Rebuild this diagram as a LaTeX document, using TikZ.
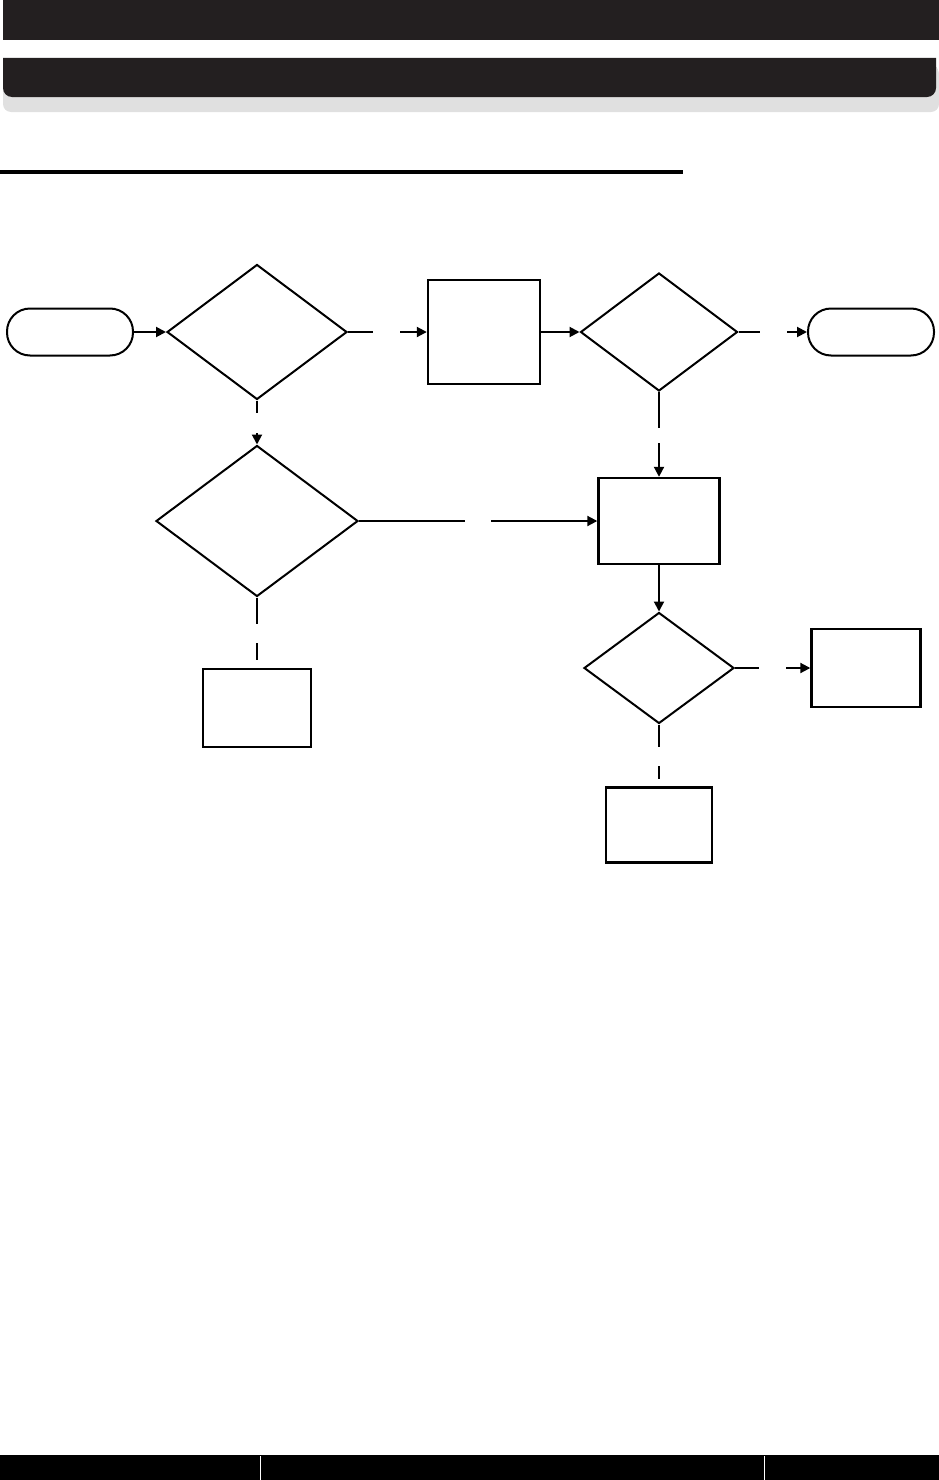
\documentclass[tikz,border=0pt]{standalone}
\usetikzlibrary{shapes.geometric,arrows.meta}
\definecolor{hdrdark}{RGB}{35,31,32}
\tikzset{
  term/.style={draw, line width=2pt, rectangle, rounded corners=23pt,
    minimum width=126pt, minimum height=47pt, inner sep=0pt},
  decis/.style={draw, line width=2pt, diamond, inner sep=0pt},
  procbox/.style={draw, line width=2.4pt, rectangle, inner sep=0pt},
  arr/.style={line width=2pt, -{Triangle[length=10pt,width=10pt]}},
  lnk/.style={line width=2pt}
}
\begin{document}
\begin{tikzpicture}[x=1pt,y=-1pt]
        \useasboundingbox (0,0) rectangle (939,1480);
        % Nagłówek
        \fill[hdrdark] (3,0) rectangle (939,40);
        \fill[black!25, rounded corners=8pt] (5,64) rectangle (938,108);
        \fill[black!12, rounded corners=8pt] (3,66) rectangle (939,112);
        \fill[hdrdark] (3,58) -- (936,58) [rounded corners=9pt] -- (936,97) -- (3,97) [sharp corners] -- cycle;
        \draw[line width=4pt] (0,172) -- (683,172);

        % Pierwszy rząd
        \node[term] (start) at (70,332) {};
        \node[decis, minimum width=180pt, minimum height=135pt] (dA) at (257,332) {};
        \node[procbox, minimum width=112pt, minimum height=104pt] (boxA) at (484,332) {};
        \node[decis, minimum width=157pt, minimum height=118pt] (dB) at (659,332) {};
        \node[term] (stop) at (871,332) {};

        % Drugi rząd
        \node[decis, minimum width=202pt, minimum height=151pt] (dC) at (257,521) {};
        \node[procbox, minimum width=121pt, minimum height=86pt] (boxB) at (659,521) {};

        % Dolna część
        \node[decis, minimum width=150pt, minimum height=111pt] (dD) at (659,668) {};
        \node[procbox, minimum width=109pt, minimum height=78pt] (boxC) at (866,668) {};
        \node[procbox, minimum width=108pt, minimum height=78pt] (boxD) at (257,708) {};
        \node[procbox, minimum width=106pt, minimum height=75pt] (boxE) at (659,825) {};

        % Końce odcinków (przerwy w liniach)
        \coordinate (gA1) at (373,332);
        \coordinate (gA2) at (400,332);
        \coordinate (gB1) at (760,332);
        \coordinate (gB2) at (787,332);
        \coordinate (gC1) at (257,413);
        \coordinate (gC2) at (257,433);
        \coordinate (gD1) at (659,428);
        \coordinate (gD2) at (659,443);
        \coordinate (gE1) at (465,521);
        \coordinate (gE2) at (491,521);
        \coordinate (gF1) at (257,624);
        \coordinate (gF2) at (257,643);
        \coordinate (gF3) at (257,660);
        \coordinate (gG1) at (759,668);
        \coordinate (gG2) at (786,668);
        \coordinate (gH1) at (659,747);
        \coordinate (gH2) at (659,766);
        \coordinate (gH3) at (659,779);

        % Połączenia
        \draw[arr] (start.east) -- (dA.west);
        \draw[lnk] (dA.east) -- (gA1);
        \draw[arr] (gA2) -- (boxA.west);
        \draw[arr] (boxA.east) -- (dB.west);
        \draw[lnk] (dB.east) -- (gB1);
        \draw[arr] (gB2) -- (stop.west);
        \draw[lnk] (dA.south) -- (gC1);
        \draw[arr] (gC2) -- (dC.north);
        \draw[lnk] (dB.south) -- (gD1);
        \draw[arr] (gD2) -- (boxB.north);
        \draw[lnk] (dC.east) -- (gE1);
        \draw[arr] (gE2) -- (boxB.west);
        \draw[lnk] (dC.south) -- (gF1);
        \draw[lnk] (gF2) -- (gF3);
        \draw[arr] (boxB.south) -- (dD.north);
        \draw[lnk] (dD.east) -- (gG1);
        \draw[arr] (gG2) -- (boxC.west);
        \draw[lnk] (dD.south) -- (gH1);
        \draw[lnk] (gH2) -- (gH3);

        % Stopka
        \fill[black] (0,1455) rectangle (939,1480);
        \draw[white, line width=0.8pt] (260,1456) -- (260,1480);
        \draw[white, line width=0.8pt] (764,1456) -- (764,1480);
\end{tikzpicture}
\end{document}
